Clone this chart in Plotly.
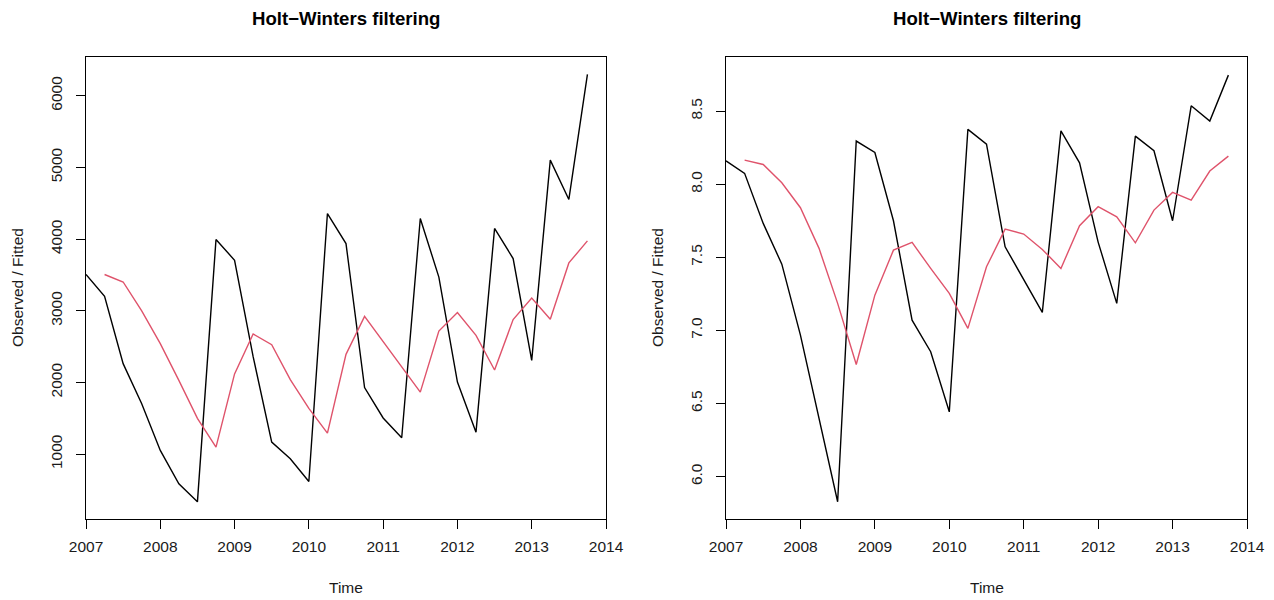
import plotly.graph_objects as go

# Quarterly time index, 2007 Q1 .. 2013 Q4
years = list(range(2007, 2014))
quarter_times = [y + q / 4 for y in years for q in range(4)]

# Raw series: observed values and Holt-Winters fitted values
observed_raw = [3506, 3203, 2263, 1704,
                1052, 587, 335, 3995,
                3705, 2360, 1168, 936,
                619, 4357, 3938, 1930,
                1505, 1229, 4288, 3470,
                2006, 1307, 4148, 3729,
                2309, 5102, 4553, 6299]
fitted_raw = [3506, 3402, 3000,
              2542, 2029, 1500, 1098,
              2120, 2677, 2528, 2040,
              1640, 1293, 2393, 2923,
              2571, 2219, 1866, 2718,
              2975, 2658, 2174, 2877,
              3179, 2881, 3668, 3975]

# Log series: observed values and Holt-Winters fitted values
observed_log = [8.160, 8.074, 7.732, 7.453,
                6.968, 6.409, 5.828, 8.295,
                8.217, 7.750, 7.070, 6.854,
                6.443, 8.375, 8.274, 7.572,
                7.344, 7.123, 8.365, 8.146,
                7.604, 7.185, 8.329, 8.229,
                7.750, 8.536, 8.432, 8.746]
fitted_log = [8.165, 8.135, 8.010,
              7.839, 7.561, 7.185, 6.767,
              7.241, 7.549, 7.602, 7.424,
              7.253, 7.014, 7.435, 7.693,
              7.659, 7.554, 7.424, 7.716,
              7.846, 7.777, 7.599, 7.823,
              7.944, 7.891, 8.090, 8.192]

x_ticks = [2007, 2008, 2009, 2010, 2011, 2012, 2013, 2014]
y_ticks_raw = [1000, 2000, 3000, 4000, 5000, 6000]
y_ticks_log = [6.0, 6.5, 7.0, 7.5, 8.0, 8.5]

W, H = 1274, 600
FONT = "Liberation Sans, Arial, Helvetica, sans-serif"
RED = "#DF536B"

fig = go.Figure()

fig.add_trace(go.Scatter(x=quarter_times, y=observed_raw, mode="lines",
                         line=dict(color="black", width=1.4),
                         xaxis="x", yaxis="y", showlegend=False))
fig.add_trace(go.Scatter(x=quarter_times[1:], y=fitted_raw, mode="lines",
                         line=dict(color=RED, width=1.4),
                         xaxis="x", yaxis="y", showlegend=False))
fig.add_trace(go.Scatter(x=quarter_times, y=observed_log, mode="lines",
                         line=dict(color="black", width=1.4),
                         xaxis="x2", yaxis="y2", showlegend=False))
fig.add_trace(go.Scatter(x=quarter_times[1:], y=fitted_log, mode="lines",
                         line=dict(color=RED, width=1.4),
                         xaxis="x2", yaxis="y2", showlegend=False))

# Plot boxes in pixel coordinates
left_box = (86, 606)
right_box = (726, 1247)
top_px, bottom_px = 57, 519
ydom = [1 - bottom_px / H, 1 - top_px / H]

axis_common = dict(showline=True, mirror=True, linecolor="black", linewidth=1.3,
                   ticks="outside", ticklen=9, tickwidth=1.2, tickcolor="black",
                   showgrid=False, zeroline=False, automargin=False,
                   tickfont=dict(family=FONT, size=15.5, color="#1a1a1a"))

fig.update_layout(
    width=W, height=H,
    margin=dict(l=0, r=0, t=0, b=0, autoexpand=False),
    paper_bgcolor="white", plot_bgcolor="white",
    xaxis=dict(domain=[left_box[0] / W, left_box[1] / W], range=[2007, 2014],
               tickvals=x_ticks, anchor="y", ticklabelstandoff=4, **axis_common),
    yaxis=dict(domain=ydom, range=[96, 6540], tickvals=y_ticks_raw,
               tickangle=-90, anchor="x", ticklabelstandoff=8, **axis_common),
    xaxis2=dict(domain=[right_box[0] / W, right_box[1] / W], range=[2007, 2014],
                tickvals=x_ticks, anchor="y2", ticklabelstandoff=4, **axis_common),
    yaxis2=dict(domain=ydom, range=[5.71, 8.87], tickvals=y_ticks_log,
                tickformat=".1f", tickangle=-90, anchor="x2", ticklabelstandoff=8,
                **axis_common),
)

annotations = []
for box in (left_box, right_box):
    cx = (box[0] + box[1]) / 2 / W
    annotations.append(dict(text="<b>Holt\u2212Winters filtering</b>", x=cx, y=1 - 18 / H,
                            xref="paper", yref="paper", showarrow=False,
                            xanchor="center", yanchor="middle",
                            font=dict(family=FONT, size=18.6, color="black")))
    annotations.append(dict(text="Time", x=cx, y=1 - 587 / H,
                            xref="paper", yref="paper", showarrow=False,
                            xanchor="center", yanchor="middle",
                            font=dict(family=FONT, size=15.5, color="#1a1a1a")))
for lx in (17, 657):
    annotations.append(dict(text="Observed / Fitted", x=lx / W, y=1 - 288 / H,
                            xref="paper", yref="paper", showarrow=False,
                            textangle=-90, xanchor="center", yanchor="middle",
                            font=dict(family=FONT, size=15.5, color="#1a1a1a")))
fig.update_layout(annotations=annotations)

fig.write_html("out.html")
